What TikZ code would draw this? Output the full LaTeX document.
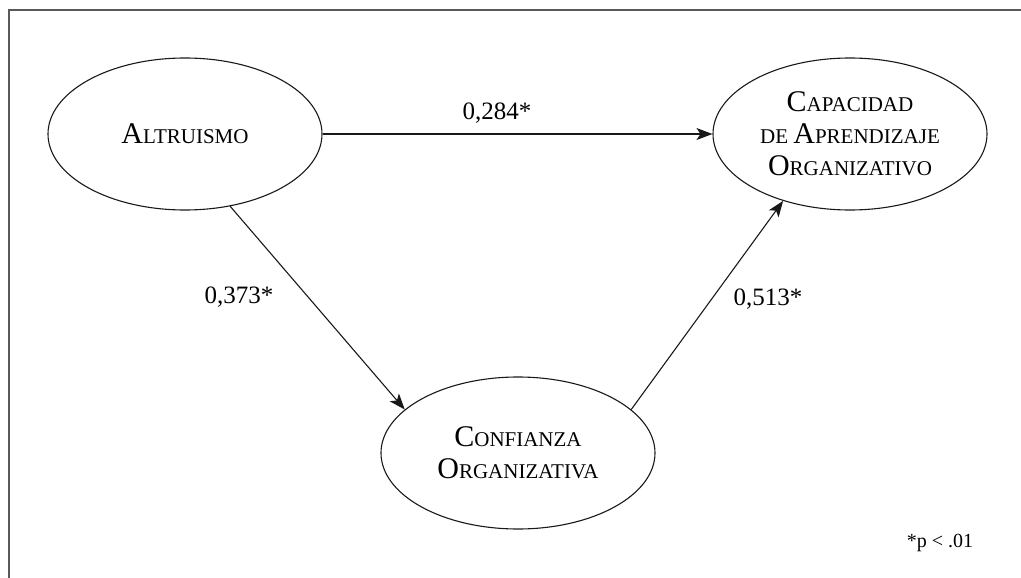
\documentclass[tikz,border=0pt]{standalone}
\usepackage{fontspec}
\setmainfont{Liberation Serif}
\usetikzlibrary{shapes.geometric,arrows.meta}
\newcommand\BigC[1]{{\fontsize{30}{32}\selectfont #1}}
\tikzset{
  construct/.style={draw=black!90, line width=1.1pt, ellipse, minimum width=274pt, minimum height=152pt, inner sep=0pt, align=center, font=\fontsize{21}{32}\selectfont},
  path/.style={draw=black!90, line width=1.1pt, -{Stealth[length=16pt,width=12pt,inset=4pt]}},
  coef/.style={anchor=base, inner sep=0pt, font=\fontsize{25}{28}\selectfont},
  note/.style={anchor=base, inner sep=0pt, font=\fontsize{20}{24}\selectfont},
  frame/.style={draw=black!65, line width=2pt}
}
\begin{document}
\begin{tikzpicture}[x=1pt,y=-1pt]
\useasboundingbox (0,0) rectangle (1021,578);
\coordinate (fb) at (9,578);
\coordinate (fc) at (9,10);
\coordinate (fr) at (1021,10);
\draw[frame] (fb) -- (fc) -- (fr);
\node[construct] (alt) at (185,134) {\BigC{A}LTRUISMO};
\node[construct] (cap) at (850,134) {\BigC{C}APACIDAD\\DE \BigC{A}PRENDIZAJE\\\BigC{O}RGANIZATIVO};
\node[construct] (con) at (518,453) {\BigC{C}ONFIANZA\\\BigC{O}RGANIZATIVA};
\draw[path] (alt.east) -- (cap.west);
\draw[path] (alt.-58) -- (con.159);
\draw[path] (con.21) -- (cap.225);
\node[coef] (l1) at (497,120) {0,284*};
\node[coef] (l2) at (239,303) {0,373*};
\node[coef] (l3) at (768,305) {0,513*};
\node[note] (pn) at (940,547) {*p < .01};
\end{tikzpicture}
\end{document}
